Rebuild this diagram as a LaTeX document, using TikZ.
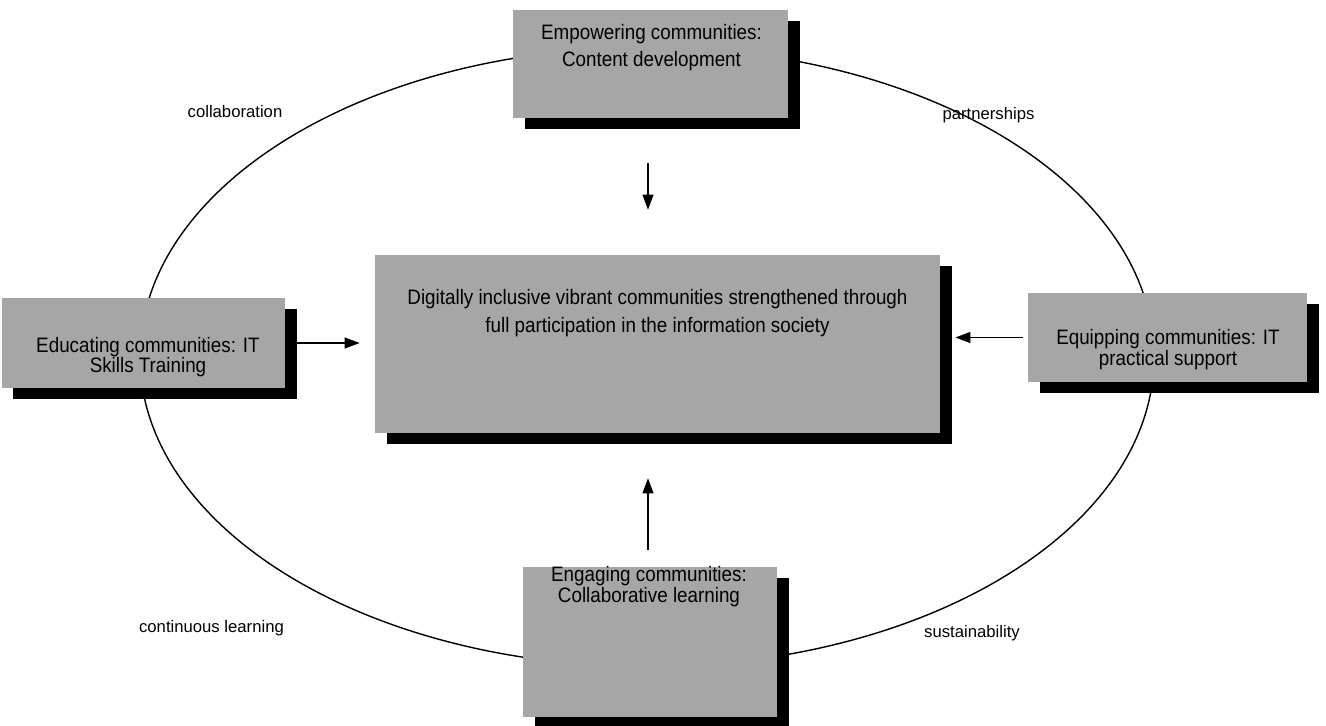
\documentclass[tikz,border=0pt]{standalone}
\usepackage{fontspec}
\setmainfont{Liberation Sans}
\newfontfamily\narrowfont[FakeStretch=0.9]{Liberation Sans}
\usetikzlibrary{arrows.meta,shadows}

\tikzset{
  box/.style={fill=black!35, inner sep=0pt,
    drop shadow={fill=black, opacity=1, shadow xshift=0.23cm, shadow yshift=-0.23cm}},
  boxtext/.style={align=center, inner sep=0pt, font=\narrowfont\fontsize{11.9}{#1}\selectfont},
  ringlabel/.style={inner sep=0pt, font=\fontsize{9.5}{11}\selectfont},
  arr/.style={line width=0.6pt, -{Triangle[length=0.3cm,width=0.22cm]}}
}

\begin{document}
\begin{tikzpicture}
  \useasboundingbox (0,0) rectangle (26.52,14.52);

  % the ring round everything
  \draw[line width=0.8pt] (12.94,7.38) ellipse [x radius=10.14, y radius=6.19];

  \node[box, minimum width=5.5cm, minimum height=2.16cm] (top) at (13.01,13.24) {};
  \node[box, minimum width=5.66cm, minimum height=1.8cm] (left) at (2.87,7.66) {};
  \node[box, minimum width=5.58cm, minimum height=1.78cm] (right) at (23.35,7.77) {};
  \node[box, minimum width=5.08cm, minimum height=3.0cm] (bottom) at (13.0,1.68) {};
  \node[box, minimum width=11.3cm, minimum height=3.56cm] (centre) at (13.15,7.64) {};

  \node[boxtext=15.3] (toptext) at (13.03,13.57) {Empowering communities:\\Content development};
  \node[boxtext=11.5] (lefttext) at (2.96,7.38) {Educating communities: IT\\Skills Training};
  \node[boxtext=11] (righttext) at (23.36,7.53) {Equipping communities: IT\\practical support};
  \node[boxtext=11] (bottomtext) at (12.98,2.79) {Engaging communities:\\Collaborative learning};
  \node[boxtext=16] (centretext) at (13.15,8.26) {Digitally inclusive vibrant communities strengthened through\\full participation in the information society};

  % arrows into the centre
  \coordinate (axis) at (12.96,0);
  \draw[arr, shorten <=0.9cm, shorten >=0.9cm] (top.south -| axis) -- (centre.north -| axis);
  \draw[arr, shorten <=0.34cm, shorten >=0.9cm] (bottom.north -| axis) -- (centre.south -| axis);
  \draw[arr, shorten <=0.2cm, shorten >=0.3cm] (left.east) -- (left.east -| centre.west);
  \draw[arr, shorten <=0.1cm, shorten >=0.3cm] (right.west) -- (right.west -| centre.east);

  \node[ringlabel] (collab) at (4.7,12.28) {collaboration};
  \node[ringlabel] (partner) at (19.77,12.22) {partnerships};
  \node[ringlabel] (learning) at (4.23,1.96) {continuous learning};
  \node[ringlabel] (sustain) at (19.44,1.86) {sustainability};
\end{tikzpicture}
\end{document}
